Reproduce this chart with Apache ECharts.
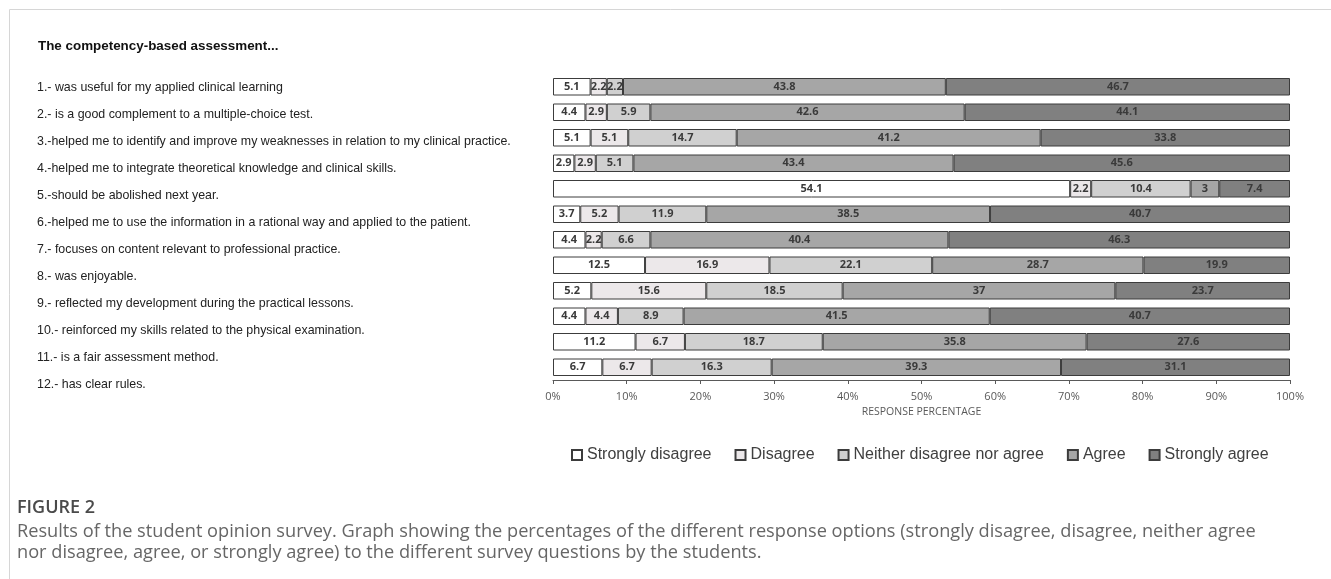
<!DOCTYPE html>
<html>
<head>
<meta charset="utf-8">
<script src="https://cdn.jsdelivr.net/npm/echarts@6/dist/echarts.min.js"></script>
<style>html,body{margin:0;padding:0;background:#fff;}#c{width:1331px;height:579px;}</style>
</head>
<body>
<div id="c"></div>
<script>
const questions = [
  "1.- was useful for my applied clinical learning",
  "2.- is a good complement to a multiple-choice test.",
  "3.-helped me to identify and improve my weaknesses in relation to my clinical practice.",
  "4.-helped me to integrate theoretical knowledge and clinical skills.",
  "5.-should be abolished next year.",
  "6.-helped me to use the information in a rational way and applied to the patient.",
  "7.- focuses on content relevant to professional practice.",
  "8.- was enjoyable.",
  "9.- reflected my development during the practical lessons.",
  "10.- reinforced my skills related to the physical examination.",
  "11.- is a fair assessment method.",
  "12.- has clear rules."
];
const seriesNames = ["Strongly disagree", "Disagree", "Neither disagree nor agree", "Agree", "Strongly agree"];
const stronglyDisagree = [5.1, 4.4, 5.1, 2.9, 54.1, 3.7, 4.4, 12.5, 5.2, 4.4, 11.2, 6.7];
const disagree         = [2.2, 2.9, 5.1, 2.9, 2.2, 5.2, 2.2, 16.9, 15.6, 4.4, 6.7, 6.7];
const neither          = [2.2, 5.9, 14.7, 5.1, 10.4, 11.9, 6.6, 22.1, 18.5, 8.9, 18.7, 16.3];
const agree            = [43.8, 42.6, 41.2, 43.4, 3, 38.5, 40.4, 28.7, 37, 41.5, 35.8, 39.3];
const stronglyAgree    = [46.7, 44.1, 33.8, 45.6, 7.4, 40.7, 46.3, 19.9, 23.7, 40.7, 27.6, 31.1];
const xTicks = [0, 10, 20, 30, 40, 50, 60, 70, 80, 90, 100];

const raw = [stronglyDisagree, disagree, neither, agree, stronglyAgree];
const colors = ['#ffffff', '#ece8ea', '#d0d0d0', '#a6a6a6', '#808080'];
const totals = questions.map((q, i) => raw.reduce((s, arr) => s + arr[i], 0));

const chart = echarts.init(document.getElementById('c'));
const series = raw.map((arr, si) => ({
  name: seriesNames[si],
  type: 'bar',
  stack: 'total',
  xAxisIndex: 0, yAxisIndex: 0,
  barWidth: 17.5,
  data: arr.map((v, i) => v / totals[i] * 100),
  itemStyle: { color: colors[si], borderColor: '#3c3c3c', borderWidth: 1 },
  label: {
    show: true, position: 'inside',
    formatter: p => String(arr[p.dataIndex]),
    color: '#3a3a3a', fontSize: 11, fontWeight: 'bold', fontFamily: 'Open Sans'
  },
  emphasis: { disabled: true }
}));

chart.setOption({
  animation: false,
  backgroundColor: '#fff',
  title: {
    text: 'The competency-based assessment...',
    left: 33, top: 35,
    textStyle: { fontFamily: 'Liberation Sans', fontSize: 13.4, fontWeight: 'bold', color: '#111' }
  },
  legend: {
    data: seriesNames,
    left: 566, top: 442,
    itemWidth: 10, itemHeight: 10, itemGap: 23,
    icon: 'rect',
    textStyle: { fontFamily: 'Liberation Sans', fontSize: 16, color: '#404040' }
  },
  grid: [
    { left: 553, right: 41, top: 74, bottom: 199 },
    { left: 560, width: 10, top: 74.5, height: 324 }
  ],
  xAxis: [
    {
      type: 'value', gridIndex: 0, min: 0, max: 100, interval: 10,
      axisLine: { show: true, lineStyle: { color: '#595959', width: 1 } },
      axisTick: { show: true, length: 4, lineStyle: { color: '#595959' } },
      splitLine: { show: false },
      axisLabel: { formatter: v => xTicks.includes(v) ? v + '%' : '', margin: 11, fontFamily: 'Open Sans', fontSize: 11, color: '#595959' },
      name: 'RESPONSE PERCENTAGE', nameLocation: 'middle', nameGap: 27,
      nameTextStyle: { fontFamily: 'Open Sans', fontSize: 10.5, color: '#595959' }
    },
    { type: 'value', gridIndex: 1, show: false }
  ],
  yAxis: [
    { type: 'category', gridIndex: 0, data: questions, inverse: true, show: false },
    {
      type: 'category', gridIndex: 1, data: questions, inverse: true,
      axisLine: { show: false }, axisTick: { show: false },
      axisLabel: { align: 'left', margin: 523, fontFamily: 'Liberation Sans', fontSize: 12.4, color: '#222' }
    }
  ],
  series: series,
  graphic: [
    { type: 'line', shape: { x1: 9.5, y1: 9.5, x2: 1331, y2: 9.5 }, style: { stroke: '#d6d6d6', lineWidth: 1 } },
    { type: 'line', shape: { x1: 9.5, y1: 9.5, x2: 9.5, y2: 579 }, style: { stroke: '#d6d6d6', lineWidth: 1 } },
    { type: 'text', left: 17, top: 499, style: { text: 'FIGURE 2', fontFamily: 'Open Sans', fontSize: 18, fontWeight: 600, fill: '#4a4a4a' } },
    { type: 'text', left: 17, top: 523, style: { text: 'Results of the student opinion survey. Graph showing the percentages of the different response options (strongly disagree, disagree, neither agree', fontFamily: 'Open Sans', fontSize: 18.2, fill: '#666' } },
    { type: 'text', left: 17, top: 544, style: { text: 'nor disagree, agree, or strongly agree) to the different survey questions by the students.', fontFamily: 'Open Sans', fontSize: 18.2, fill: '#666' } }
  ]
});
</script>
</body>
</html>
